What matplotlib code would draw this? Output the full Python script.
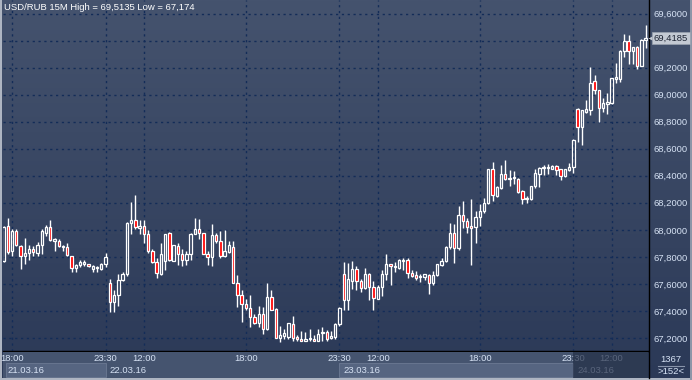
import numpy as np
import matplotlib.pyplot as plt
from matplotlib.patches import Rectangle
from matplotlib.colors import LinearSegmentedColormap
from matplotlib.transforms import blended_transform_factory

# 15M candles, index 0..151
opens = [67.77, 68.025, 67.84, 67.995, 67.88, 67.81, 67.83, 67.855, 67.83, 67.89,
         67.98, 68.02, 67.92, 67.92, 67.87, 67.87, 67.805, 67.72, 67.74, 67.75,
         67.745, 67.71, 67.72, 67.71, 67.75, 67.605, 67.47, 67.515, 67.63, 67.67,
         68.05, 68.075, 68.012, 68.03, 67.97, 67.84, 67.76, 67.675, 67.77, 67.975,
         67.77, 67.88, 67.82, 67.78, 67.82, 67.97, 68.01, 67.975, 67.82, 67.80,
         67.96, 67.92, 67.81, 67.835, 67.875, 67.61, 67.52, 67.448, 67.425, 67.355,
         67.31, 67.38, 67.268, 67.505, 67.418, 67.20, 67.218, 67.205, 67.305, 67.205,
         67.193, 67.178, 67.19, 67.195, 67.18, 67.235, 67.245, 67.20, 67.205, 67.30,
         67.67, 67.48, 67.62, 67.71, 67.625, 67.57, 67.67, 67.58, 67.49, 67.578,
         67.675, 67.75, 67.723, 67.72, 67.772, 67.78, 67.68, 67.665, 67.65, 67.652,
         67.665, 67.61, 67.665, 67.743, 67.768, 67.87, 67.978, 67.864, 68.11, 68.067,
         68.025, 68.02, 68.096, 68.143, 68.195, 68.447, 68.252, 68.311, 68.41, 68.373,
         68.38, 68.378, 68.287, 68.225, 68.225, 68.324, 68.415, 68.46, 68.46, 68.449,
         68.474, 68.447, 68.40, 68.442, 68.462, 68.891, 68.761, 68.872, 68.884, 69.098,
         69.036, 68.901, 68.933, 68.938, 69.115, 69.115, 69.321, 69.40, 69.321, 69.356,
         69.211, 69.405]
highs = [68.03, 68.085, 68.005, 68.005, 67.885, 67.94, 67.89, 67.88, 67.91, 68.005,
         68.035, 68.07, 67.94, 67.93, 67.885, 67.905, 67.81, 67.75, 67.78, 67.775,
         67.75, 67.74, 67.735, 67.755, 67.83, 67.64, 67.555, 67.67, 67.69, 68.055,
         68.205, 68.26, 68.07, 68.075, 68.0, 67.855, 67.79, 67.905, 67.97, 67.985,
         67.89, 67.905, 67.86, 67.84, 67.98, 68.085, 68.08, 67.98, 67.84, 68.04,
         67.975, 67.99, 68.0, 67.92, 67.92, 67.665, 67.555, 67.49, 67.518, 67.38,
         67.435, 67.43, 67.605, 67.555, 67.425, 67.29, 67.268, 67.31, 67.36, 67.225,
         67.255, 67.243, 67.265, 67.22, 67.265, 67.28, 67.26, 67.25, 67.31, 67.43,
         67.76, 67.755, 67.77, 67.73, 67.635, 67.72, 67.68, 67.62, 67.595, 67.70,
         67.825, 67.75, 67.76, 67.785, 67.79, 67.79, 67.70, 67.695, 67.67, 67.67,
         67.676, 67.694, 67.745, 67.79, 67.88, 68.047, 68.04, 68.175, 68.217, 68.089,
         68.225, 68.14, 68.188, 68.237, 68.452, 68.50, 68.328, 68.477, 68.52, 68.44,
         68.435, 68.385, 68.294, 68.25, 68.328, 68.452, 68.465, 68.476, 68.486, 68.476,
         68.476, 68.447, 68.452, 68.491, 68.673, 68.899, 68.889, 68.958, 69.208, 69.142,
         69.036, 68.977, 69.012, 69.125, 69.235, 69.331, 69.449, 69.444, 69.356, 69.363,
         69.41, 69.5135]
lows = [67.76, 67.82, 67.81, 67.88, 67.71, 67.75, 67.78, 67.805, 67.805, 67.82,
        67.955, 67.92, 67.84, 67.875, 67.84, 67.81, 67.685, 67.69, 67.725, 67.73,
        67.725, 67.69, 67.69, 67.705, 67.725, 67.39, 67.39, 67.44, 67.625, 67.66,
        67.97, 68.01, 67.97, 67.905, 67.83, 67.755, 67.645, 67.667, 67.705, 67.77,
        67.77, 67.74, 67.735, 67.74, 67.775, 67.97, 67.93, 67.82, 67.74, 67.735,
        67.905, 67.79, 67.80, 67.83, 67.61, 67.43, 67.318, 67.405, 67.28, 67.305,
        67.28, 67.23, 67.26, 67.405, 67.198, 67.174, 67.193, 67.193, 67.18, 67.18,
        67.178, 67.178, 67.18, 67.18, 67.178, 67.18, 67.18, 67.19, 67.195, 67.29,
        67.41, 67.405, 67.56, 67.555, 67.54, 67.565, 67.48, 67.41, 67.485, 67.51,
        67.63, 67.59, 67.686, 67.71, 67.70, 67.645, 67.65, 67.63, 67.617, 67.627,
        67.526, 67.595, 67.657, 67.73, 67.76, 67.86, 67.755, 67.854, 68.015, 67.978,
        67.743, 67.90, 68.032, 68.126, 68.188, 68.212, 68.245, 68.299, 68.368, 68.328,
        68.34, 68.274, 68.188, 68.195, 68.22, 68.311, 68.319, 68.405, 68.412, 68.449,
        68.405, 68.368, 68.388, 68.437, 68.422, 68.648, 68.626, 68.864, 68.847, 69.002,
        68.798, 68.872, 68.855, 68.933, 69.085, 69.093, 69.282, 69.223, 69.223, 69.191,
        69.211, 69.346]
closes = [68.02, 67.838, 67.995, 67.885, 67.81, 67.83, 67.86, 67.835, 67.89, 67.99,
          68.02, 67.925, 67.93, 67.88, 67.88, 67.815, 67.72, 67.74, 67.765, 67.76,
          67.73, 67.735, 67.722, 67.75, 67.80, 67.47, 67.515, 67.63, 67.67, 68.05,
          68.075, 68.02, 68.025, 67.97, 67.84, 67.76, 67.68, 67.82, 67.97, 67.775,
          67.885, 67.82, 67.78, 67.82, 67.97, 68.01, 67.98, 67.825, 67.80, 67.96,
          67.92, 67.805, 67.84, 67.885, 67.61, 67.52, 67.448, 67.425, 67.355, 67.31,
          67.38, 67.268, 67.505, 67.41, 67.20, 67.225, 67.235, 67.31, 67.20, 67.19,
          67.178, 67.193, 67.195, 67.18, 67.23, 67.245, 67.195, 67.215, 67.30, 67.42,
          67.48, 67.64, 67.71, 67.625, 67.57, 67.67, 67.58, 67.495, 67.58, 67.67,
          67.75, 67.73, 67.735, 67.775, 67.78, 67.68, 67.66, 67.645, 67.655, 67.67,
          67.61, 67.665, 67.745, 67.77, 67.87, 67.978, 67.864, 68.11, 68.067, 68.02,
          68.015, 68.096, 68.143, 68.195, 68.447, 68.26, 68.316, 68.41, 68.373, 68.378,
          68.385, 68.28, 68.225, 68.232, 68.324, 68.417, 68.46, 68.463, 68.465, 68.474,
          68.442, 68.40, 68.452, 68.466, 68.663, 68.761, 68.884, 68.891, 69.088, 69.031,
          68.901, 68.938, 68.945, 69.125, 69.130, 69.326, 69.40, 69.321, 69.351, 69.211,
          69.405, 69.4185]

time_ticks = [2, 24, 33, 57, 79, 88, 112, 134, 143]
time_labels = ['18:00', '23:30', '12:00', '18:00', '23:30', '12:00', '18:00', '23:30', '12:00']
date_labels = ['21.03.16', '22.03.16', '23.03.16', '24.03.16']
date_edges = [-0.12, 24, 79, 134, 151.55]
price_ticks = [67.2, 67.4, 67.6, 67.8, 68.0, 68.2, 68.4, 68.6, 68.8, 69.0, 69.2, 69.4, 69.6]
title = 'USD/RUB 15M High = 69,5135 Low = 67,174'
bars_total = '1367'
bars_visible = '>152<'

W, H = 692, 380
plt.rcParams['font.family'] = ['Liberation Sans', 'DejaVu Sans']
txt_col = '#d6e2f4'
fs = 6.8

fig = plt.figure(figsize=(W / 100, H / 100), dpi=100)

# background (whole figure, pixel coordinates)
bg = fig.add_axes([0, 0, 1, 1])
cmap = LinearSegmentedColormap.from_list('bg', ['#45536e', '#2b3957'])
bg.imshow(np.linspace(0, 1, 256)[:, None], aspect='auto', cmap=cmap, extent=[0, W, H, 0])
bg.set_xlim(0, W)
bg.set_ylim(H, 0)
bg.axis('off')
bg.add_patch(Rectangle((0, 0), 2, H, fc='#aeb5c2', ec='none'))
bg.add_patch(Rectangle((0, 378), W, 2, fc='#aeb5c2', ec='none'))
bg.add_patch(Rectangle((690, 0), 2, H, fc='#8d96a8', ec='none'))
bg.plot([648.5, 648.5], [0, 378], color='black', lw=1)
bg.text(671, 359, bars_total, ha='center', va='center', color=txt_col, fontsize=fs)
bg.plot([658, 684], [365.5, 365.5], color='#8894aa', lw=0.8)
bg.text(671, 372, bars_visible, ha='center', va='center', color=txt_col, fontsize=fs)

# main chart
ax = fig.add_axes([3 / W, 1 - 351 / H, 645 / W, 351 / H])
ax.patch.set_alpha(0)
ax.set_xlim(date_edges[0], date_edges[-1])
ax.set_ylim(67.104, 69.70)

o = np.array(opens)
c = np.array(closes)
hi = np.array(highs)
lo = np.array(lows)
idx = np.arange(len(o))
top = np.maximum(o, c)
bot = np.minimum(o, c)
ax.vlines(idx, top, hi, color='white', lw=1, zorder=3)
ax.vlines(idx, lo, bot, color='white', lw=1, zorder=3)
height = np.maximum(top - bot, 0.008)
faces = ['#ff0000' if cc < oo else 'none' for oo, cc in zip(o, c)]
ax.bar(idx, height, bottom=bot, width=0.55, color=faces, edgecolor='white', linewidth=0.9, zorder=4)

ax.set_xticks(time_ticks)
ax.set_yticks(price_ticks)
# the 69,4000 label sits under the current price box in the original
ax.set_yticklabels(['' if abs(v - 69.4) < 1e-6 else f'{v:.4f}'.replace('.', ',') for v in price_ticks])
ax.yaxis.tick_right()
ax.tick_params(axis='x', length=0, labelbottom=False)
ax.tick_params(axis='y', length=0, pad=4, labelsize=fs, labelcolor=txt_col)
ax.grid(True, color='#132c58', ls=(0, (1.6, 2.6)), lw=1)
ax.set_axisbelow(True)
for s in ['top', 'left', 'right']:
    ax.spines[s].set_visible(False)
ax.spines['bottom'].set_color('black')
ax.spines['bottom'].set_linewidth(1)

# current price marker
tr = blended_transform_factory(ax.transAxes, ax.transData)
ax.text(1 + 5.5 / 645, closes[-1], f'{closes[-1]:.4f}'.replace('.', ','), transform=tr,
        ha='left', va='center', fontsize=fs, color='#1c2333', clip_on=False,
        bbox=dict(boxstyle='square,pad=0.2', fc='#c3c9d3', ec='#9aa2b0', lw=0.5))
ax.plot([1 + 2.5 / 645], [closes[-1]], marker='<', ms=5, color='#c3c9d3', mec='none',
        transform=tr, clip_on=False)

fig.text(4 / W, 1 - 8 / H, title, color='white', fontsize=fs, va='center', ha='left')

# time axis band
axb = fig.add_axes([3 / W, 2 / H, 645 / W, 26 / H])
axb.set_facecolor('#45546f')
axb.set_xlim(date_edges[0], date_edges[-1])
axb.set_ylim(378, 352)
axb.set_xticks([])
axb.set_yticks([])
for s in axb.spines.values():
    s.set_visible(False)
for k in (0, 2):
    x_start = max(date_edges[k], 0.55)
    axb.add_patch(Rectangle((x_start, 363), date_edges[k + 1] - x_start, 14,
                            fc='#566581', ec='#6b7993', lw=0.6))
for t, lab in zip(time_ticks, time_labels):
    axb.text(t, 359, lab, ha='center', va='center', color=txt_col, fontsize=fs)
for k, lab in enumerate(date_labels):
    axb.text(date_edges[k] + 1.0, 371, lab, ha='left', va='center', color=txt_col,
             fontsize=fs, zorder=2)
axb.add_patch(Rectangle((date_edges[3], 352), date_edges[4] - date_edges[3], 26,
                        fc='#232f47', alpha=0.7, ec='none', zorder=5))

fig.savefig('out.png', dpi=100)
